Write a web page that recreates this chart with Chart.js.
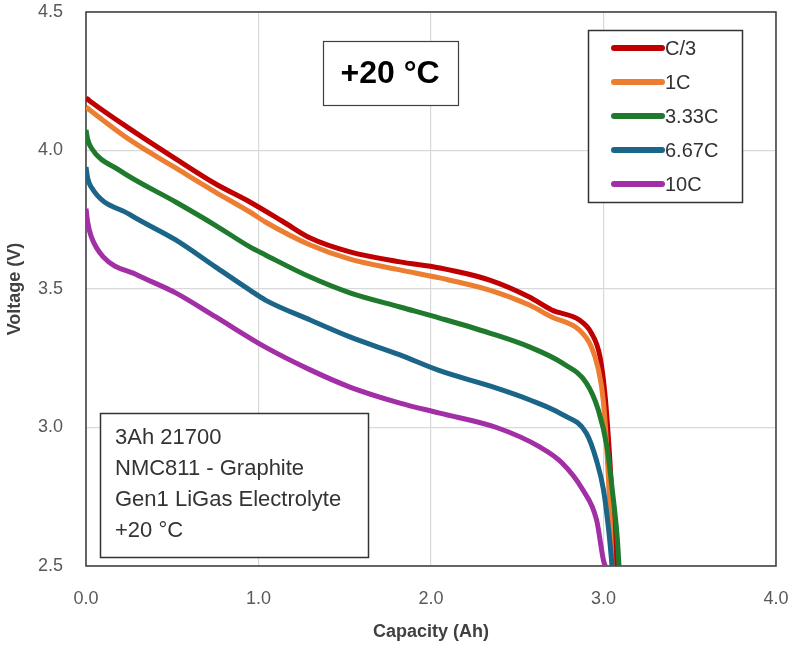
<!DOCTYPE html>
<html>
<head>
<meta charset="utf-8">
<script src="https://cdn.jsdelivr.net/npm/chart.js@4.4.1/dist/chart.umd.min.js"></script>
<style>
  html, body { margin: 0; padding: 0; background: #ffffff; }
  #wrap { width: 791px; height: 647px; position: relative; }
</style>
</head>
<body>
<div id="wrap"><canvas id="c" width="791" height="647"></canvas></div>
<script>
// Discharge curves of a 3Ah 21700 cell at +20 °C: capacity (Ah) vs voltage (V)
const seriesLabels = ['C/3', '1C', '3.33C', '6.67C', '10C'];
const seriesColors = ['#C00000', '#ED7D31', '#1F7A2E', '#1B6589', '#A22FA5'];

const capC3  = [0, 0.02, 0.25, 0.52, 0.75, 0.95, 1.15, 1.30, 1.53, 1.82, 2.05, 2.34, 2.57, 2.70, 2.86, 2.93, 2.98, 3.01, 3.04, 3.07];
const voltC3 = [4.19, 4.18, 4.08, 3.97, 3.88, 3.814, 3.74, 3.684, 3.634, 3.598, 3.576, 3.532, 3.471, 3.424, 3.388, 3.341, 3.255, 3.11, 2.85, 2.5];

const cap1C  = [0, 0.02, 0.25, 0.52, 0.75, 0.95, 1.04, 1.30, 1.53, 1.82, 2.05, 2.34, 2.57, 2.70, 2.86, 2.93, 2.97, 3.00, 3.03, 3.05];
const volt1C = [4.157, 4.147, 4.04, 3.937, 3.85, 3.778, 3.742, 3.659, 3.608, 3.569, 3.54, 3.496, 3.442, 3.399, 3.352, 3.291, 3.21, 3.09, 2.8, 2.5];

const cap333C  = [0, 0.01, 0.03, 0.19, 0.52, 0.75, 0.95, 1.04, 1.30, 1.53, 1.82, 2.05, 2.34, 2.57, 2.76, 2.90, 2.97, 3.02, 3.05, 3.08, 3.09];
const volt333C = [4.074, 4.04, 4.01, 3.93, 3.814, 3.73, 3.652, 3.623, 3.543, 3.486, 3.435, 3.395, 3.341, 3.291, 3.233, 3.161, 3.063, 2.93, 2.78, 2.6, 2.5];

const cap667C  = [0, 0.01, 0.03, 0.25, 0.52, 0.75, 0.95, 1.04, 1.30, 1.53, 1.82, 2.05, 2.34, 2.57, 2.76, 2.90, 2.96, 3.00, 3.03, 3.05];
const volt667C = [3.94, 3.90, 3.868, 3.77, 3.677, 3.58, 3.496, 3.46, 3.388, 3.327, 3.262, 3.205, 3.15, 3.10, 3.047, 2.98, 2.88, 2.775, 2.63, 2.5];

const cap10C  = [0, 0.01, 0.03, 0.10, 0.30, 0.52, 0.75, 1.04, 1.30, 1.53, 1.82, 2.05, 2.38, 2.63, 2.76, 2.88, 2.96, 3.00, 3.01];
const volt10C = [3.79, 3.74, 3.69, 3.616, 3.55, 3.486, 3.40, 3.29, 3.208, 3.146, 3.088, 3.052, 3.0, 2.93, 2.872, 2.775, 2.666, 2.52, 2.5];

const xTicks = [0, 1, 2, 3, 4];
const yTicks = [2.5, 3.0, 3.5, 4.0, 4.5];

const noteLines = ['3Ah 21700', 'NMC811 - Graphite', 'Gen1 LiGas Electrolyte', '+20 \u00B0C'];
const headline = '+20 \u00B0C';

const caps  = [capC3, cap1C, cap333C, cap667C, cap10C];
const volts = [voltC3, volt1C, volt333C, volt667C, volt10C];

function toPoints(xs, ys) { return xs.map((x, i) => ({ x: x, y: ys[i] })); }

const datasets = seriesLabels.map((label, i) => ({
  label: label,
  data: toPoints(caps[i], volts[i]),
  borderColor: seriesColors[i],
  backgroundColor: seriesColors[i],
  borderWidth: 5,
  pointRadius: 0,
  cubicInterpolationMode: 'monotone',
  fill: false,
  order: seriesLabels.length - i
}));

// Frame around the plot area, drawn under the curves
const frame = {
  id: 'frame',
  beforeDatasetsDraw(chart) {
    const a = chart.chartArea, ctx = chart.ctx;
    ctx.save();
    ctx.strokeStyle = '#3a3a3a';
    ctx.lineWidth = 1.5;
    ctx.strokeRect(a.left, a.top, a.right - a.left, a.bottom - a.top);
    ctx.restore();
  }
};

// Headline box, legend box and cell-description box
const boxes = {
  id: 'boxes',
  afterDraw(chart) {
    const ctx = chart.ctx;
    ctx.save();

    // headline
    ctx.fillStyle = '#ffffff';
    ctx.fillRect(323, 41, 135, 64);
    ctx.strokeStyle = '#404040';
    ctx.lineWidth = 1.2;
    ctx.strokeRect(323.5, 41.5, 135, 64);
    ctx.fillStyle = '#000000';
    ctx.font = 'bold 32px "Liberation Sans", Arial, sans-serif';
    ctx.textAlign = 'center';
    ctx.textBaseline = 'middle';
    ctx.fillText(headline, 390, 74);

    // legend
    ctx.fillStyle = '#ffffff';
    ctx.fillRect(588, 30, 154, 172);
    ctx.strokeStyle = '#333333';
    ctx.lineWidth = 1.5;
    ctx.strokeRect(588.5, 30.5, 154, 172);
    ctx.font = '20px "Liberation Sans", Arial, sans-serif';
    ctx.textAlign = 'left';
    ctx.textBaseline = 'middle';
    chart.data.datasets.forEach((ds, i) => {
      const y = 48 + i * 34;
      ctx.strokeStyle = ds.borderColor;
      ctx.lineWidth = 6;
      ctx.lineCap = 'round';
      ctx.beginPath();
      ctx.moveTo(614, y);
      ctx.lineTo(662, y);
      ctx.stroke();
      ctx.fillStyle = '#333333';
      ctx.fillText(ds.label, 665, y + 1);
    });

    // description
    ctx.fillStyle = '#ffffff';
    ctx.fillRect(100, 413, 268, 144);
    ctx.strokeStyle = '#333333';
    ctx.lineWidth = 1.5;
    ctx.strokeRect(100.5, 413.5, 268, 144);
    ctx.fillStyle = '#333333';
    ctx.font = '22px "Liberation Sans", Arial, sans-serif';
    ctx.textAlign = 'left';
    ctx.textBaseline = 'middle';
    noteLines.forEach((t, i) => ctx.fillText(t, 115, 438 + i * 31));

    ctx.restore();
  }
};

// Fixed axis box sizes, without the extra room Chart.js reserves for edge labels
function fixX(scale) {
  scale.height = 81;
  scale.paddingLeft = 0; scale.paddingRight = 0;
  scale.paddingTop = 0; scale.paddingBottom = 0;
}
function fixY(scale) {
  scale.width = 86;
  scale.paddingLeft = 0; scale.paddingRight = 0;
  scale.paddingTop = 0; scale.paddingBottom = 0;
}

new Chart(document.getElementById('c'), {
  type: 'line',
  data: { datasets: datasets },
  options: {
    responsive: false,
    animation: false,
    layout: { padding: { top: 12, right: 15, left: 0, bottom: 0 } },
    plugins: {
      legend: { display: false },
      tooltip: { enabled: false }
    },
    scales: {
      x: {
        type: 'linear',
        min: 0, max: 4,
        afterBuildTicks(scale) { scale.ticks = xTicks.map(v => ({ value: v })); },
        afterFit: fixX,
        grid: { color: '#d9d9d9', lineWidth: 1.2, drawTicks: false },
        border: { display: false },
        ticks: {
          padding: 22,
          color: '#595959',
          font: { family: '"Liberation Sans", Arial, sans-serif', size: 18 },
          callback: v => Number(v).toFixed(1)
        },
        title: {
          display: true,
          text: 'Capacity (Ah)',
          color: '#404040',
          font: { family: '"Liberation Sans", Arial, sans-serif', size: 18, weight: 'bold' },
          padding: { top: 0, bottom: 4 }
        }
      },
      y: {
        type: 'linear',
        min: 2.5, max: 4.5,
        afterBuildTicks(scale) { scale.ticks = yTicks.map(v => ({ value: v })); },
        afterFit: fixY,
        grid: { color: '#d9d9d9', lineWidth: 1.2, drawTicks: false },
        border: { display: false },
        ticks: {
          padding: 23,
          color: '#595959',
          font: { family: '"Liberation Sans", Arial, sans-serif', size: 18 },
          callback: v => Number(v).toFixed(1)
        },
        title: {
          display: true,
          text: 'Voltage (V)',
          color: '#404040',
          font: { family: '"Liberation Sans", Arial, sans-serif', size: 18, weight: 'bold' },
          padding: { top: 4, bottom: 0 }
        }
      }
    }
  },
  plugins: [frame, boxes]
});
</script>
</body>
</html>
